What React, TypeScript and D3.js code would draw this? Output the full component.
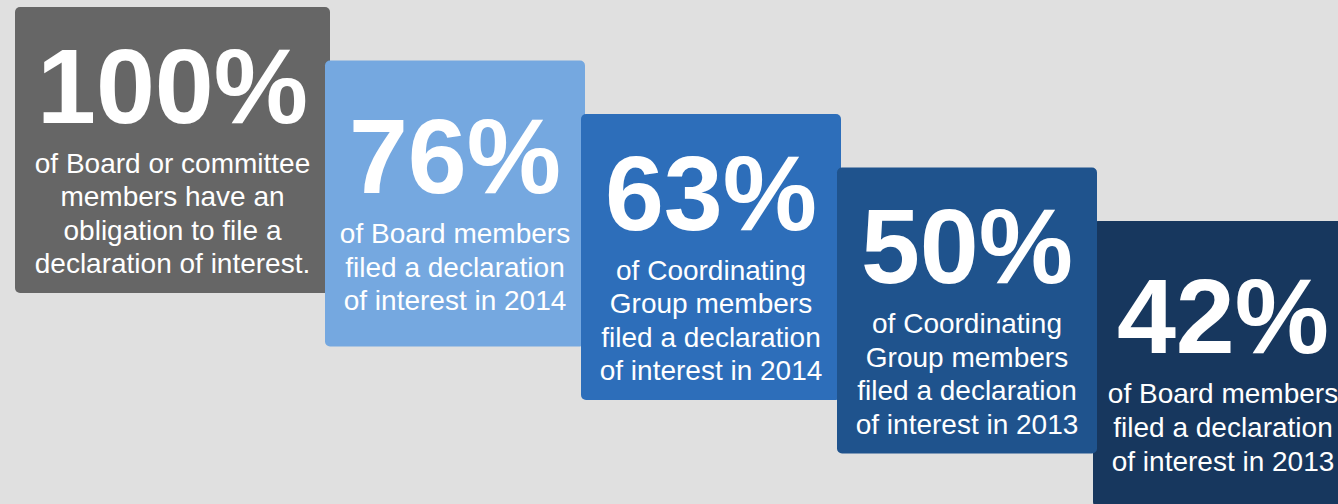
import { useEffect, useRef } from 'react';
import * as d3 from 'd3';

const values = [100, 76, 63, 50, 42];
const descriptions = [
  ['of Board or committee', 'members have an', 'obligation to file a', 'declaration of interest.'],
  ['of Board members', 'filed a declaration', 'of interest in 2014'],
  ['of Coordinating', 'Group members', 'filed a declaration', 'of interest in 2014'],
  ['of Coordinating', 'Group members', 'filed a declaration', 'of interest in 2013'],
  ['of Board members', 'filed a declaration', 'of interest in 2013'],
];
const colors = ['#666666', '#75a8e0', '#2d6eba', '#1f538d', '#17375e'];
// last card sits underneath the fourth one
const drawOrder = [4, 0, 1, 2, 3];

const WIDTH = 1338;
const HEIGHT = 504;

export default function App() {
  const svgRef = useRef<SVGSVGElement>(null);

  useEffect(() => {
    if (!svgRef.current) return;
    const svg = d3.select(svgRef.current);
    svg.selectAll('*').remove();

    const boxH = 286;
    const lineH = 33.6;

    const xLeft = d3.scaleLinear().domain([1, values.length - 1]).range([325, 1093]);
    const yTop = d3.scaleLinear().domain([0, values.length - 1]).range([7, 221]);
    const left = (i: number) => (i === 0 ? 15 : xLeft(i));
    const width = (i: number) => (i === 0 ? 315 : 260);
    const cx = (i: number) => left(i) + width(i) / 2;
    const bigBase = (i: number) => {
      const n = descriptions[i].length;
      const span = 50 + (n - 1) * lineH;
      return yTop(i) + boxH / 2 - span / 2 + 48;
    };

    svg.append('rect')
      .attr('width', WIDTH)
      .attr('height', HEIGHT)
      .attr('fill', '#e0e0e0');

    const g = svg.selectAll('.card')
      .data(drawOrder)
      .enter().append('g')
      .attr('class', 'card');

    g.append('rect')
      .attr('x', left)
      .attr('y', i => yTop(i))
      .attr('width', width)
      .attr('height', boxH)
      .attr('rx', 5)
      .attr('fill', i => colors[i]);

    g.append('text')
      .attr('x', cx)
      .attr('y', bigBase)
      .attr('text-anchor', 'middle')
      .attr('font-family', '"Liberation Sans", Arial, sans-serif')
      .attr('font-weight', 'bold')
      .attr('font-size', '106px')
      .attr('fill', '#ffffff')
      .text(i => `${values[i]}%`);

    g.each(function (i) {
      d3.select(this).selectAll('.sub')
        .data(descriptions[i])
        .enter().append('text')
        .attr('class', 'sub')
        .attr('x', cx(i))
        .attr('y', (_, j) => bigBase(i) + 50 + j * lineH)
        .attr('text-anchor', 'middle')
        .attr('font-family', '"Liberation Sans", Arial, sans-serif')
        .attr('font-size', '28px')
        .attr('fill', '#ffffff')
        .text(d => d);
    });
  }, []);

  return (
    <svg
      ref={svgRef}
      width={WIDTH}
      height={HEIGHT}
      style={{ position: 'absolute', left: 0, top: 0, display: 'block' }}
    />
  );
}
